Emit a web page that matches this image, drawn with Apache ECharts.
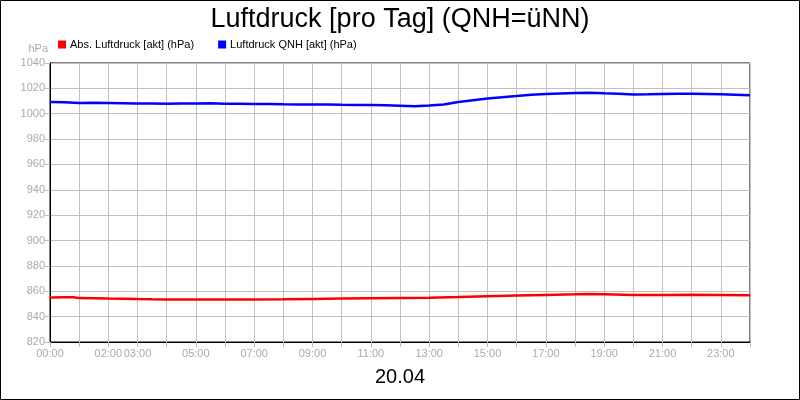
<!DOCTYPE html>
<html>
<head>
<meta charset="utf-8">
<script src="https://cdn.jsdelivr.net/npm/echarts@6/dist/echarts.min.js"></script>
<style>
html, body { margin: 0; padding: 0; background: #fff; }
#main { width: 800px; height: 400px; }
</style>
</head>
<body>
<div id="main"></div>
<script>
// Messzeitpunkte in Stunden (20.04)
var absHours = [0, 0.5, 0.8, 1, 1.5, 2, 2.5, 3, 3.5, 4, 5, 6, 7, 8, 9, 10, 11, 12, 13, 14, 15, 16, 17, 18, 18.5, 19, 20, 21, 22, 23, 24];
var absPressure = [855.0, 855.2, 855.3, 854.6, 854.5, 854.3, 854.2, 853.9, 853.7, 853.6, 853.5, 853.6, 853.6, 853.7, 854.0, 854.3, 854.5, 854.7, 854.8, 855.4, 856.1, 856.6, 857.1, 857.6, 857.9, 857.6, 857.0, 857.1, 857.2, 857.1, 856.9];

var qnhHours = [0, 0.5, 1, 1.5, 2, 2.5, 3, 3.5, 4, 4.5, 5, 5.5, 6, 6.5, 7, 7.5, 8, 8.5, 9, 9.5, 10, 10.5, 11, 11.5, 12, 12.5, 13, 13.5, 14, 14.5, 15, 15.5, 16, 16.5, 17, 17.5, 18, 18.5, 19, 19.5, 20, 20.5, 21, 21.5, 22, 22.5, 23, 23.5, 24];
var qnhPressure = [1009.3, 1009.0, 1008.5, 1008.6, 1008.4, 1008.2, 1008.0, 1008.1, 1007.9, 1008.0, 1008.1, 1008.3, 1007.9, 1007.8, 1007.6, 1007.6, 1007.4, 1007.3, 1007.2, 1007.2, 1007.0, 1006.9, 1006.8, 1006.7, 1006.3, 1005.9, 1006.5, 1007.3, 1009.2, 1010.6, 1012.0, 1013.0, 1013.9, 1014.9, 1015.6, 1016.0, 1016.3, 1016.5, 1016.1, 1015.8, 1015.2, 1015.3, 1015.6, 1015.7, 1015.7, 1015.6, 1015.4, 1015.0, 1014.5];

// Stunden, an denen eine Beschriftung steht
var labelHours = [0, 2, 3, 5, 7, 9, 11, 13, 15, 17, 19, 21, 23];

var seriesNames = ['Abs. Luftdruck [akt] (hPa)', 'Luftdruck QNH [akt] (hPa)'];
var dayLabel = '20.04';

function pairs(xs, ys) {
    return xs.map(function (x, i) { return [x, ys[i]]; });
}

var font = "'Liberation Sans', Arial, sans-serif";
var grey = '#aaaaaa';

var myChart = echarts.init(document.getElementById('main'));
myChart.setOption({
    animation: false,
    backgroundColor: '#fff',
    textStyle: { fontFamily: font },
    title: {
        text: 'Luftdruck [pro Tag] (QNH=üNN)',
        left: 'center',
        top: 1,
        textStyle: { fontFamily: font, fontSize: 27, fontWeight: 'normal', color: '#000' }
    },
    legend: {
        left: 58,
        top: 39,
        padding: 0,
        icon: 'rect',
        itemWidth: 8,
        itemHeight: 8,
        itemGap: 24,
        textStyle: { fontFamily: font, fontSize: 11, color: '#000', padding: [0, 0, 0, -1] },
        data: seriesNames
    },
    grid: {
        left: 50, right: 50, top: 63, bottom: 58,
        show: true, borderColor: '#000', borderWidth: 1
    },
    xAxis: {
        type: 'value',
        min: 0,
        max: 24,
        interval: 1,
        name: dayLabel,
        nameLocation: 'middle',
        nameGap: 25,
        nameTextStyle: { fontFamily: font, fontSize: 20, color: '#000' },
        axisLine: { show: true, lineStyle: { color: '#000' } },
        axisTick: { show: true, length: 5, lineStyle: { color: '#bbbbbb' } },
        splitLine: { show: true, lineStyle: { color: '#c0c0c0', width: 1 } },
        axisLabel: {
            color: grey, fontSize: 11, fontFamily: font, margin: 6,
            showMinLabel: true, showMaxLabel: true,
            formatter: function (v) {
                if (labelHours.indexOf(v) < 0) return '';
                return (v < 10 ? '0' : '') + v + ':00';
            }
        }
    },
    yAxis: {
        type: 'value',
        min: 820,
        max: 1040,
        interval: 20,
        name: 'hPa',
        nameLocation: 'end',
        nameGap: 9,
        nameTextStyle: { fontFamily: font, fontSize: 11, color: grey, align: 'right', padding: [0, 2, 0, 0] },
        axisLine: { show: true, lineStyle: { color: '#000' } },
        axisTick: { show: true, length: 5, lineStyle: { color: '#bbbbbb' } },
        splitLine: { show: true, lineStyle: { color: '#c0c0c0', width: 1 } },
        axisLabel: {
            color: grey, fontSize: 11, fontFamily: font, margin: 5,
            formatter: function (v) { return String(v); }
        }
    },
    series: [
        {
            name: seriesNames[0],
            type: 'line',
            data: pairs(absHours, absPressure),
            showSymbol: false,
            color: '#ff0000',
            lineStyle: { width: 2.5, color: '#ff0000' }
        },
        {
            name: seriesNames[1],
            type: 'line',
            data: pairs(qnhHours, qnhPressure),
            showSymbol: false,
            color: '#0000ff',
            lineStyle: { width: 2.5, color: '#0000ff' }
        }
    ],
    graphic: [{
        type: 'rect',
        shape: { x: 0.5, y: 0.5, width: 799, height: 399 },
        style: { fill: 'none', stroke: '#000', lineWidth: 1 },
        silent: true
    }]
});
</script>
</body>
</html>
